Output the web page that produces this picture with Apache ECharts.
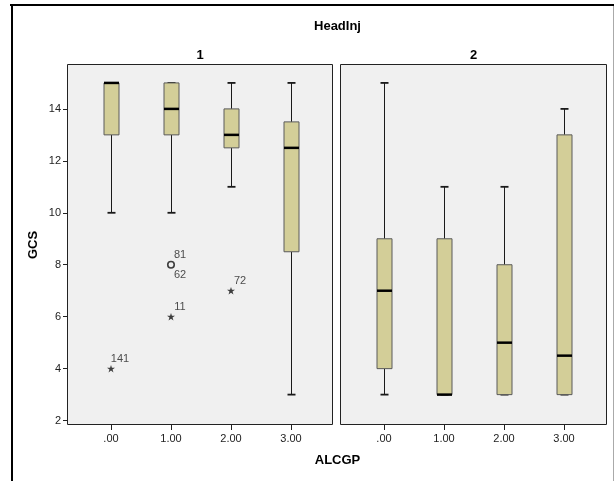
<!DOCTYPE html>
<html><head><meta charset="utf-8">
<script src="https://cdn.jsdelivr.net/npm/echarts@6/dist/echarts.min.js"></script>
<style>html,body{margin:0;padding:0;background:#fff}#c{width:614px;height:481px}</style>
</head><body><div id="c"></div>
<script>
// ---- data ----
const categories = ['.00', '1.00', '2.00', '3.00'];
const panelTitles = ['1', '2'];
const chartTitle = 'HeadInj';
const xName = 'ALCGP';
const yName = 'GCS';
// [min, Q1, median, Q3, max]
const headInj1Boxes = [[10, 13, 15, 15, 15], [10, 13, 14, 15, 15], [11, 12.5, 13, 14, 15], [3, 8.5, 12.5, 13.5, 15]];
const headInj2Boxes = [[3, 4, 7, 9, 15], [3, 3, 3, 9, 11], [3, 3, 5, 8, 11], [3, 3, 4.5, 13, 14]];
const outlierCategory = [0, 1, 1, 1, 2];
const outlierGCS = [4, 8, 8, 6, 7];
const outlierCaseIds = ['141', '81', '62', '11', '72'];
const outlierKind = ['extreme', 'outlier', 'outlier', 'extreme', 'extreme'];
const yTicks = [2, 4, 6, 8, 10, 12, 14];
const yMin = 1.83, yMax = 15.69;

// ---- styles ----
const FONT = '"Liberation Sans", Arial, sans-serif';
const STAR = 'path://M50,0L61.2,34.5L97.6,34.5L68.2,55.9L79.4,90.5L50,69.1L20.6,90.5L31.8,55.9L2.4,34.5L38.8,34.5Z';
const TOP = 65, H = 360;

function boxRender(params, api) {
  const c = api.value(0);
  const p = [1, 2, 3, 4, 5].map(i => api.coord([c, api.value(i)]));
  const x = Math.round(p[0][0]) + 0.5;
  const yLo = p[0][1], yQ1 = p[1][1], yMed = p[2][1], yQ3 = p[3][1], yHi = p[4][1];
  const hw = 7.5, cw = 4;
  const ws = { stroke: '#1a1a1a', lineWidth: 1 };
  const cs = { stroke: '#1a1a1a', lineWidth: 1.8 };
  return {
    type: 'group', children: [
      { type: 'line', shape: { x1: x, y1: yLo, x2: x, y2: yQ1 }, style: ws },
      { type: 'line', shape: { x1: x, y1: yQ3, x2: x, y2: yHi }, style: ws },
      { type: 'line', shape: { x1: x - cw, y1: yLo, x2: x + cw, y2: yLo }, style: cs },
      { type: 'line', shape: { x1: x - cw, y1: yHi, x2: x + cw, y2: yHi }, style: cs },
      { type: 'rect', shape: { x: x - hw, y: yQ3, width: 2 * hw, height: yQ1 - yQ3 },
        style: { fill: '#d3ce98', stroke: '#5a5a5a', lineWidth: 1 } },
      { type: 'line', shape: { x1: x - hw, y1: yMed, x2: x + hw, y2: yMed }, style: { stroke: '#000', lineWidth: 2.5 } }
    ]
  };
}

const tickLabel = { fontSize: 11, color: '#222', fontFamily: FONT };

function boxXAxis(gi) {
  return {
    gridIndex: gi, type: 'category', data: categories, boundaryGap: true,
    axisLine: { show: false },
    axisTick: { show: true, alignWithLabel: true, length: 5, lineStyle: { color: '#222' } },
    axisLabel: Object.assign({ margin: 8 }, tickLabel),
    splitLine: { show: false }
  };
}

const seen = {};
const outlierData = outlierCategory.map((c, i) => {
  const isStar = outlierKind[i] === 'extreme';
  const key = c + '_' + outlierGCS[i];
  const dup = !!seen[key];
  seen[key] = true;
  return {
    value: [c, outlierGCS[i]],
    name: outlierCaseIds[i],
    symbol: isStar ? STAR : 'circle',
    symbolSize: isStar ? [8, 7.5] : 6.5,
    itemStyle: isStar ? { color: '#111', borderWidth: 0 }
      : { color: 'rgba(0,0,0,0)', borderColor: dup ? 'rgba(0,0,0,0)' : '#111', borderWidth: 1.6 },
    label: { offset: dup ? [9, 10] : [9, -10] }
  };
});

const option = {
  animation: false,
  backgroundColor: '#fff',
  grid: [
    { left: 81, top: TOP, width: 240, height: H, show: false, outerBoundsMode: 'none' },
    { left: 354, top: TOP, width: 240, height: H, show: false, outerBoundsMode: 'none' },
    { left: 67.5, top: TOP - 0.5, width: 265, height: H, show: true, backgroundColor: '#f0f0f0', borderColor: '#222', borderWidth: 1, outerBoundsMode: 'none' },
    { left: 340.5, top: TOP - 0.5, width: 266, height: H, show: true, backgroundColor: '#f0f0f0', borderColor: '#222', borderWidth: 1, outerBoundsMode: 'none' }
  ],
  xAxis: [
    boxXAxis(0), boxXAxis(1),
    { gridIndex: 2, type: 'value', show: false },
    { gridIndex: 3, type: 'value', show: false }
  ],
  yAxis: [
    {
      gridIndex: 0, type: 'value', min: yMin, max: yMax, offset: 13,
      splitLine: { show: false }, axisLine: { show: false },
      axisTick: { show: true, length: 5, customValues: yTicks, lineStyle: { color: '#222' } },
      axisLabel: Object.assign({ margin: 7, customValues: yTicks }, tickLabel),
      name: yName, nameLocation: 'middle', nameGap: 28,
      nameTextStyle: { fontSize: 13, fontWeight: 'bold', color: '#000', fontFamily: FONT }
    },
    { gridIndex: 1, type: 'value', min: yMin, max: yMax, show: false },
    { gridIndex: 2, type: 'value', show: false },
    { gridIndex: 3, type: 'value', show: false }
  ],
  series: [
    { type: 'custom', xAxisIndex: 0, yAxisIndex: 0, renderItem: boxRender, z: 3,
      encode: { x: 0, y: [1, 2, 3, 4, 5] },
      data: headInj1Boxes.map((b, i) => [i].concat(b)) },
    { type: 'custom', xAxisIndex: 1, yAxisIndex: 1, renderItem: boxRender, z: 3,
      encode: { x: 0, y: [1, 2, 3, 4, 5] },
      data: headInj2Boxes.map((b, i) => [i].concat(b)) },
    { type: 'scatter', xAxisIndex: 0, yAxisIndex: 0, z: 4,
      data: outlierData,
      label: { show: true, position: 'inside', formatter: '{b}', fontSize: 11, color: '#222', fontFamily: FONT } }
  ],
  graphic: [
    { type: 'line', shape: { x1: 10, y1: 5, x2: 614, y2: 5 }, style: { stroke: '#000', lineWidth: 2 }, silent: true },
    { type: 'line', shape: { x1: 12, y1: 4, x2: 12, y2: 481 }, style: { stroke: '#000', lineWidth: 2 }, silent: true },
    { type: 'line', shape: { x1: 613.5, y1: 6, x2: 613.5, y2: 481 }, style: { stroke: '#aaa', lineWidth: 1 }, silent: true },
    { type: 'text', x: 337.5, y: 26, style: { text: chartTitle, align: 'center', verticalAlign: 'middle', font: 'bold 13px ' + FONT, fill: '#000' } },
    { type: 'text', x: 200, y: 55, style: { text: panelTitles[0], align: 'center', verticalAlign: 'middle', font: 'bold 13px ' + FONT, fill: '#000' } },
    { type: 'text', x: 473.5, y: 55, style: { text: panelTitles[1], align: 'center', verticalAlign: 'middle', font: 'bold 13px ' + FONT, fill: '#000' } },
    { type: 'text', x: 337.5, y: 460, style: { text: xName, align: 'center', verticalAlign: 'middle', font: 'bold 13px ' + FONT, fill: '#000' } }
  ]
};

const chart = echarts.init(document.getElementById('c'), null, { renderer: 'canvas' });
chart.setOption(option);
</script>
</body></html>
